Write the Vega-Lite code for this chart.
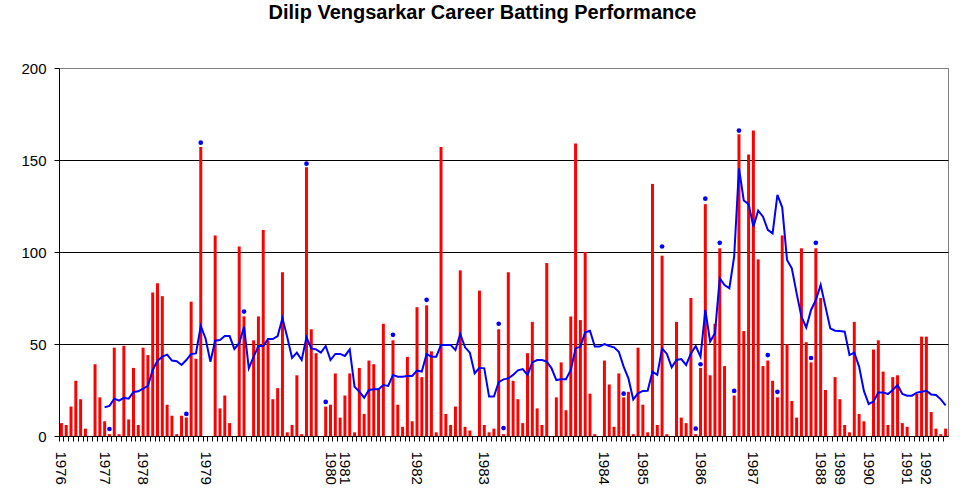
{
  "$schema": "https://vega.github.io/schema/vega-lite/v6.json",
  "width": 889,
  "height": 368,
  "autosize": {"type": "none"},
  "padding": {"left": 59, "top": 68, "right": 15, "bottom": 56},
  "background": "white",
  "title": {
    "text": "Dilip Vengsarkar Career Batting Performance",
    "font": "Liberation Sans",
    "fontSize": 20,
    "fontWeight": "bold",
    "color": "black",
    "anchor": "middle",
    "dx": -21,
    "offset": 38
  },
  "data": {"values": [
    {"i":0,"r":7},{"i":1,"r":6},{"i":2,"r":16},{"i":3,"r":30},{"i":4,"r":20},{"i":5,"r":4},{"i":6,"r":0},{"i":7,"r":39},{"i":8,"r":21},{"i":9,"r":8,"a":15.6},
    {"i":10,"r":1,"n":3.8,"a":16.3},{"i":11,"r":48,"a":20.3},{"i":12,"r":1,"a":19.2},{"i":13,"r":49,"a":20.7},{"i":14,"r":9,"a":20.3},{"i":15,"r":37,"a":23.9},{"i":16,"r":6,"a":24.3},{"i":17,"r":48,"a":25.7},{"i":18,"r":44,"a":27.2},{"i":19,"r":78,"a":35.9},
    {"i":20,"r":83,"a":40.9},{"i":21,"r":76,"a":43.1},{"i":22,"r":17,"a":44.2},{"i":23,"r":11,"a":41},{"i":24,"r":1,"a":40.6},{"i":25,"r":11,"a":38.6},{"i":26,"r":10,"n":12,"a":41.3},{"i":27,"r":73,"a":44.6},{"i":28,"r":42,"a":44.9},{"i":29,"r":157,"n":159.4,"a":59.8},
    {"i":30,"r":0,"a":53},{"i":31,"r":0,"a":40.4},{"i":32,"r":109,"a":51.8},{"i":33,"r":15,"a":52.2},{"i":34,"r":22,"a":54.3},{"i":35,"r":7,"a":54.3},{"i":36,"r":0,"a":47.3},{"i":37,"r":103,"a":50.4},{"i":38,"r":65,"n":67.6,"a":59.4},{"i":39,"r":0,"a":36.8},
    {"i":40,"r":52,"a":43.1},{"i":41,"r":65,"a":48.9},{"i":42,"r":112,"a":48.9},{"i":43,"r":52,"a":52.7},{"i":44,"r":20,"a":52.7},{"i":45,"r":26,"a":54.3},{"i":46,"r":89,"a":64},{"i":47,"r":2,"a":53.7},{"i":48,"r":6,"a":42.4},{"i":49,"r":33,"a":45.3},
    {"i":50,"r":1,"a":41.3},{"i":51,"r":146,"n":148,"a":53.6},{"i":52,"r":58,"a":47.6},{"i":53,"r":45,"a":47.1},{"i":54,"r":0,"a":45.3},{"i":55,"r":16,"n":18.5,"a":48.9},{"i":56,"r":17,"a":41.3},{"i":57,"r":34,"a":44.6},{"i":58,"r":10,"a":44.6},{"i":59,"r":22,"a":43.5},
    {"i":60,"r":34,"a":47.1},{"i":61,"r":2,"a":26.8},{"i":62,"r":37,"a":24.1},{"i":63,"r":12,"a":20.8},{"i":64,"r":41,"a":25},{"i":65,"r":39,"a":25.4},{"i":66,"r":26,"a":25.4},{"i":67,"r":61,"a":27.7},{"i":68,"r":0,"a":27.2},{"i":69,"r":52,"n":55,"a":33.2},
    {"i":70,"r":17,"a":32.2},{"i":71,"r":5,"a":32.2},{"i":72,"r":43,"a":32.6},{"i":73,"r":8,"a":32.6},{"i":74,"r":70,"a":35.5},{"i":75,"r":32,"a":35},{"i":76,"r":71,"n":74,"a":44.6},{"i":77,"r":46,"a":43.1},{"i":78,"r":2,"a":43.1},{"i":79,"r":157,"a":49.5},
    {"i":80,"r":12,"a":49.5},{"i":81,"r":6,"a":49.5},{"i":82,"r":16,"a":46.7},{"i":83,"r":90,"a":55.4},{"i":84,"r":5,"a":48.2},{"i":85,"r":3,"a":45.3},{"i":86,"r":0,"a":34.1},{"i":87,"r":79,"a":37.1},{"i":88,"r":6,"a":36.8},{"i":89,"r":2,"a":21.4},
    {"i":90,"r":4,"a":21.4},{"i":91,"r":58,"n":61,"a":29.2},{"i":92,"r":1,"n":4.3,"a":30.8},{"i":93,"r":89,"a":31.3},{"i":94,"r":30,"a":33.2},{"i":95,"r":20,"a":35.7},{"i":96,"r":7,"a":36.4},{"i":97,"r":45,"a":33.2},{"i":98,"r":62,"a":40},{"i":99,"r":15,"a":41.3},
    {"i":100,"r":6,"a":41.3},{"i":101,"r":94,"a":40.4},{"i":102,"r":0,"a":36.8},{"i":103,"r":21,"a":30.4},{"i":104,"r":40,"a":30.8},{"i":105,"r":14,"a":30.8},{"i":106,"r":65,"a":35.9},{"i":107,"r":159,"a":47.6},{"i":108,"r":63,"a":48.6},{"i":109,"r":100,"a":56.3},
    {"i":110,"r":23,"a":57.2},{"i":111,"r":1,"a":48.6},{"i":112,"r":0,"a":48.6},{"i":113,"r":41,"a":50},{"i":114,"r":28,"a":48.9},{"i":115,"r":5,"a":48.2},{"i":116,"r":34,"a":45.8},{"i":117,"r":21,"n":23,"a":37.7},{"i":118,"r":24,"a":31.3},{"i":119,"r":1,"a":19.9},
    {"i":120,"r":48,"a":23.2},{"i":121,"r":17,"a":24.5},{"i":122,"r":2,"a":24.6},{"i":123,"r":137,"a":35},{"i":124,"r":6,"a":33.2},{"i":125,"r":98,"n":103,"a":47.6},{"i":126,"r":1,"a":44.6},{"i":127,"r":0,"a":37.3},{"i":128,"r":62,"a":41.3},{"i":129,"r":10,"a":41.8},
    {"i":130,"r":7,"a":38.6},{"i":131,"r":75,"a":44.9},{"i":132,"r":1,"n":4,"a":48.9},{"i":133,"r":37,"n":39,"a":43.1},{"i":134,"r":126,"n":129,"a":68.5},{"i":135,"r":33,"a":51.3},{"i":136,"r":61,"a":55.8},{"i":137,"r":102,"n":105,"a":85.7},{"i":138,"r":38,"a":82},{"i":139,"r":0,"a":80.3},
    {"i":140,"r":22,"n":24.5,"a":97.5},{"i":141,"r":164,"n":166,"a":145.5},{"i":142,"r":57,"a":128},{"i":143,"r":153,"a":126},{"i":144,"r":166,"a":113.8},{"i":145,"r":96,"a":122.5},{"i":146,"r":38,"a":119.2},{"i":147,"r":41,"n":44,"a":112},{"i":148,"r":30,"a":110.1},{"i":149,"r":21,"n":24,"a":131},
    {"i":150,"r":109,"a":124.3},{"i":151,"r":50,"a":95.7},{"i":152,"r":19,"a":91.1},{"i":153,"r":10,"a":77.5},{"i":154,"r":102,"a":64.9},{"i":155,"r":51,"a":59},{"i":156,"r":40,"n":42.4,"a":68.5},{"i":157,"r":102,"n":105,"a":73.9},{"i":158,"r":75,"a":82.1},{"i":159,"r":25,"a":70.3},
    {"i":160,"r":0,"a":58.5},{"i":161,"r":32,"a":57.2},{"i":162,"r":20,"a":57.1},{"i":163,"r":6,"a":56.7},{"i":164,"r":2,"a":44},{"i":165,"r":62,"a":45.3},{"i":166,"r":12,"a":37.7},{"i":167,"r":8,"a":24.5},{"i":168,"r":0,"a":17.4},{"i":169,"r":47,"a":18.7},
    {"i":170,"r":52,"a":23.7},{"i":171,"r":35,"a":23.7},{"i":172,"r":6,"a":22.8},{"i":173,"r":32,"a":25},{"i":174,"r":33,"a":27.7},{"i":175,"r":7,"a":22.8},{"i":176,"r":5,"a":21.9},{"i":177,"r":0,"a":21.9},{"i":178,"r":23,"a":23.6},{"i":179,"r":54,"a":24.1},
    {"i":180,"r":54,"a":24.6},{"i":181,"r":13,"a":22.6},{"i":182,"r":4,"a":22.3},{"i":183,"r":1,"a":19.9},{"i":184,"r":4,"a":16.7}
  ]},
  "layer": [
    {
      "mark": {"type": "bar", "color": "#FF0000"},
      "encoding": {
        "x": {
          "field": "i",
          "type": "ordinal",
          "scale": {"type": "band", "paddingInner": 0.38, "paddingOuter": 0.19},
          "axis": {
            "orient": "bottom",
            "title": null,
            "ticks": false,
            "domain": true,
            "domainColor": "black",
            "labelAngle": 90,
            "labelPadding": 15,
            "labelFont": "Liberation Sans",
            "labelFontSize": 15,
            "labelColor": "black",
            "labelOverlap": false,
            "labelExpr": "indexof([0,9,17,30,56,59,74,88,113,121,133,144,158,162,168,176,180], datum.value) < 0 ? '' : ['1976','1977','1978','1979','1980','1981','1982','1983','1984','1985','1986','1987','1988','1989','1990','1991','1992'][indexof([0,9,17,30,56,59,74,88,113,121,133,144,158,162,168,176,180], datum.value)]"
          }
        },
        "y": {
          "field": "r",
          "type": "quantitative",
          "scale": {"domain": [0, 200], "nice": false},
          "axis": {
            "title": null,
            "values": [0, 50, 100, 150, 200],
            "grid": true,
            "gridColor": {"condition": {"test": "datum.value === 200", "value": "#808080"}, "value": "black"},
            "gridOpacity": 1,
            "domainColor": "black",
            "tickColor": "black",
            "tickSize": 5,
            "labelPadding": 8,
            "labelFont": "Liberation Sans",
            "labelFontSize": 15,
            "labelColor": "black"
          }
        }
      }
    },
    {
      "transform": [{"filter": "isValid(datum.a)"}],
      "mark": {"type": "line", "color": "#0000FF", "strokeWidth": 2},
      "encoding": {
        "x": {
          "field": "i",
          "type": "ordinal",
          "axis": {
            "orient": "bottom",
            "title": null,
            "labels": false,
            "domain": false,
            "ticks": true,
            "tickColor": "black",
            "tickSize": 5,
            "bandPosition": -0.3
          }
        },
        "y": {"field": "a", "type": "quantitative"}
      }
    },
    {
      "transform": [{"filter": "isValid(datum.n)"}],
      "mark": {"type": "circle", "color": "#0000FF", "size": 22, "opacity": 1},
      "encoding": {
        "x": {"field": "i", "type": "ordinal", "axis": null},
        "y": {"field": "n", "type": "quantitative"}
      }
    }
  ],
  "resolve": {"scale": {"x": "shared", "y": "shared"}, "axis": {"x": "independent"}},
  "config": {
    "view": {"stroke": "#808080", "strokeWidth": 1},
    "axis": {"gridWidth": 1, "domainWidth": 1, "tickWidth": 1}
  }
}
